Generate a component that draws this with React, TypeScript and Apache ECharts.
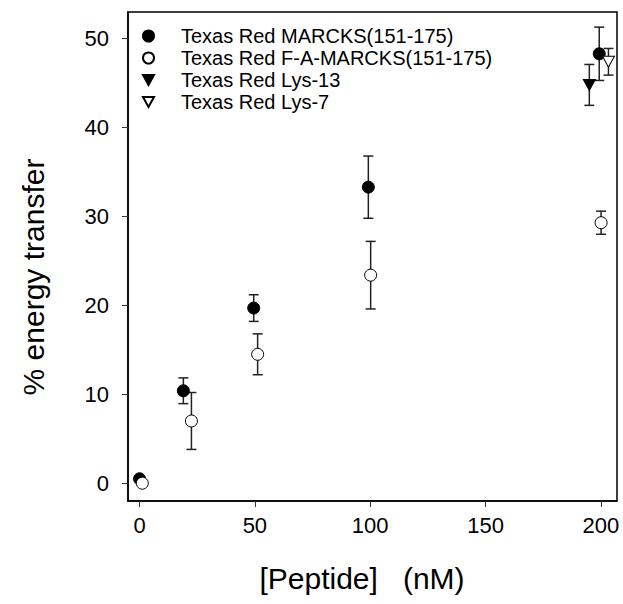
import React, { useEffect, useRef } from 'react';
import * as echarts from 'echarts';

const FONT = '"Liberation Sans", Arial, sans-serif';

const seriesNames = [
  'Texas Red MARCKS(151-175)',
  'Texas Red F-A-MARCKS(151-175)',
  'Texas Red Lys-13',
  'Texas Red Lys-7',
];

const marcksX = [0, 19, 49.5, 99.2, 199.3];
const marcksY = [0.5, 10.4, 19.7, 33.3, 48.3];
const marcksErr = [0, 1.45, 1.5, 3.5, 3.0];

const faX = [1.2, 22.5, 51.2, 100.2, 200.1];
const faY = [0, 7.0, 14.5, 23.4, 29.3];
const faErr = [0, 3.2, 2.3, 3.8, 1.3];

const lys13X = [195];
const lys13Y = [44.8];
const lys13Err = [2.3];

const lys7X = [203.3];
const lys7Y = [47.4];
const lys7Err = [1.5];

const xTicks = [0, 50, 100, 150, 200];
const yTicks = [0, 10, 20, 30, 40, 50];

const pts = (xs: number[], ys: number[]) => xs.map((x, i) => [x, ys[i]]);
const errs = (xs: number[], ys: number[], es: number[]) =>
  xs.map((x, i) => [x, ys[i], es[i]]).filter((d) => d[2] > 0);

const triDown = 'path://M0,0L10,0L5,9Z';

export default function App() {
  const ref = useRef<HTMLDivElement>(null);
  useEffect(() => {
    const chart = echarts.init(ref.current!, null, { renderer: 'svg' });
    const errData = [
      ...errs(marcksX, marcksY, marcksErr),
      ...errs(faX, faY, faErr),
      ...errs(lys13X, lys13Y, lys13Err),
      ...errs(lys7X, lys7Y, lys7Err),
    ];
    const axisCommon = {
      type: 'value' as const,
      axisLine: { show: true, onZero: false, lineStyle: { color: '#000', width: 1.5 } },
      axisTick: { show: true, inside: false, length: 6, lineStyle: { color: '#333', width: 1 } },
      splitLine: { show: false },
    };
    chart.setOption({
      animation: false,
      backgroundColor: '#fff',
      grid: {
        left: 128,
        top: 12,
        right: 6,
        bottom: 103,
        show: true,
        borderColor: '#000',
        borderWidth: 1.5,
      },
      xAxis: {
        ...axisCommon,
        min: -5,
        max: 207,
        axisTick: { ...axisCommon.axisTick, customValues: xTicks },
        axisLabel: {
          customValues: xTicks,
          fontSize: 22,
          color: '#000',
          fontFamily: FONT,
          margin: 13,
        },
      },
      yAxis: {
        ...axisCommon,
        min: -2,
        max: 53,
        axisTick: { ...axisCommon.axisTick, customValues: yTicks },
        axisLabel: {
          customValues: yTicks,
          fontSize: 22,
          color: '#000',
          fontFamily: FONT,
          margin: 19,
        },
      },
      legend: {
        orient: 'vertical',
        left: 137,
        top: 21,
        itemWidth: 11,
        itemHeight: 11,
        itemGap: 2,
        textStyle: {
          fontSize: 20,
          color: '#000',
          fontFamily: FONT,
          padding: [0, 0, 0, 22],
        },
        data: [
          { name: seriesNames[0], icon: 'circle' },
          { name: seriesNames[1], icon: 'circle' },
          { name: seriesNames[2], icon: triDown },
          { name: seriesNames[3], icon: triDown },
        ],
      },
      graphic: [
        {
          type: 'text',
          x: 362,
          y: 578,
          style: {
            text: '[Peptide]   (nM)',
            fontSize: 30,
            fontFamily: FONT,
            fill: '#000',
            textAlign: 'center',
            textVerticalAlign: 'middle',
          },
        },
        {
          type: 'text',
          x: 33,
          y: 277,
          rotation: Math.PI / 2,
          style: {
            text: '% energy transfer',
            fontSize: 30,
            fontFamily: FONT,
            fill: '#000',
            textAlign: 'center',
            textVerticalAlign: 'middle',
          },
        },
      ],
      series: [
        {
          type: 'custom',
          name: 'errors',
          z: 1,
          data: errData,
          renderItem: (params: any, api: any) => {
            const x = api.value(0);
            const y = api.value(1);
            const e = api.value(2);
            const top = api.coord([x, y + e]);
            const bot = api.coord([x, y - e]);
            const hw = 5;
            const st = { stroke: '#222', lineWidth: 1.5 };
            return {
              type: 'group',
              children: [
                { type: 'line', shape: { x1: top[0], y1: top[1], x2: bot[0], y2: bot[1] }, style: st },
                { type: 'line', shape: { x1: top[0] - hw, y1: top[1], x2: top[0] + hw, y2: top[1] }, style: st },
                { type: 'line', shape: { x1: bot[0] - hw, y1: bot[1], x2: bot[0] + hw, y2: bot[1] }, style: st },
              ],
            };
          },
        },
        {
          type: 'scatter',
          name: seriesNames[0],
          z: 3,
          symbol: 'circle',
          symbolSize: 12,
          itemStyle: { color: '#000', borderColor: '#000', borderWidth: 1, opacity: 1 },
          data: pts(marcksX, marcksY),
        },
        {
          type: 'scatter',
          name: seriesNames[1],
          z: 4,
          symbol: 'circle',
          symbolSize: 12,
          itemStyle: { color: '#fff', borderColor: '#000', borderWidth: 1, opacity: 1 },
          data: pts(faX, faY),
        },
        {
          type: 'scatter',
          name: seriesNames[2],
          z: 3,
          symbol: triDown,
          symbolSize: [12, 11],
          itemStyle: { color: '#000', borderColor: '#000', borderWidth: 1, opacity: 1 },
          data: pts(lys13X, lys13Y),
        },
        {
          type: 'scatter',
          name: seriesNames[3],
          z: 3,
          symbol: triDown,
          symbolSize: [12, 11],
          itemStyle: { color: '#fff', borderColor: '#000', borderWidth: 1, opacity: 1 },
          data: pts(lys7X, lys7Y),
        },
      ],
    });
    return () => chart.dispose();
  }, []);
  return (
    <div
      ref={ref}
      style={{ position: 'absolute', left: 0, top: 0, width: 623, height: 604 }}
    />
  );
}
